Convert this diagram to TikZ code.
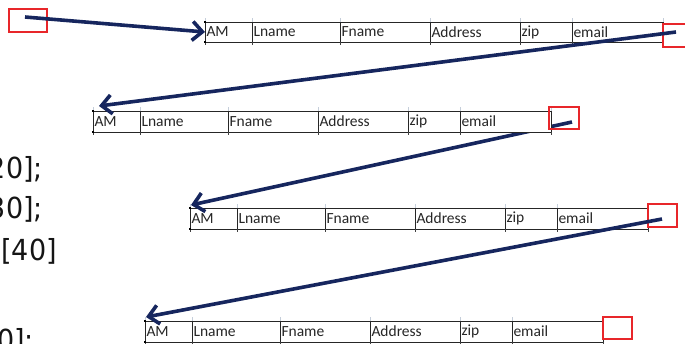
\documentclass[tikz,border=0pt]{standalone}
\usepackage{fontspec}
\setmainfont{Carlito}
\newfontfamily\codefont{DejaVu Sans}[FakeStretch=0.93]
\usetikzlibrary{arrows.meta}

\definecolor{navy}{HTML}{16265E}
\definecolor{markred}{HTML}{E8262A}
\definecolor{gridgray}{HTML}{C5CEDA}
\definecolor{celltext}{HTML}{262626}
\definecolor{codetext}{HTML}{151515}

\tikzset{
  cell/.style={draw=black!85, line width=0.9pt, fill=white, inner xsep=1.5pt,
    inner ysep=0pt, outer sep=0pt, align=left, anchor=north west,
    text=celltext, font=\fontsize{15.5}{15.5}\selectfont},
  redmark/.style={color=markred, draw=markred, line width=1.3pt,
    inner sep=0pt, outer sep=0pt, anchor=north west},
  conn/.style={draw=navy, line width=3.6pt,
    -{Straight Barb[length=10pt,width=19pt]}},
  codeline/.style={anchor=base east, inner sep=0pt, text=codetext,
    font=\codefont\fontsize{29}{29}\selectfont},
}

% one record: AM | Lname | Fname | Address | zip | email
% #1 name prefix, #2 left x, #3 top y, #4 row height
\newcommand\recordrow[4]{%
  \node[cell, minimum height=#4pt, text width=44pt] (#1a) at (#2,#3) {AM};
  \node[cell, minimum height=#4pt, text width=85pt] (#1b) at (#1a.north east) {Lname};
  \node[cell, minimum height=#4pt, text width=87pt] (#1c) at (#1b.north east) {Fname};
  \node[cell, minimum height=#4pt, text width=87pt] (#1d) at (#1c.north east) {Address};
  \node[cell, minimum height=#4pt, text width=49pt] (#1e) at (#1d.north east) {zip};
  \node[cell, minimum height=#4pt, text width=88pt] (#1f) at (#1e.north east) {email};
  \foreach \k in {a,b,c,d,e,f} {
    \draw[gridgray, line width=0.8pt] (#1\k.north west) -- ++(0,-4);
    \draw[black!75, line width=0.9pt] (#1\k.south west) -- ++(0,3);
  }
  \draw[gridgray, line width=0.8pt] (#1f.north east) -- ++(0,-4);
  \draw[black!75, line width=0.9pt] (#1f.south east) -- ++(0,3);
  \fill[black] (#1a.north west) +(-1,-1) rectangle +(1,1);
  \fill[black] (#1a.south west) +(-1,-1) rectangle +(1,1);
}

\begin{document}
\begin{tikzpicture}[x=1pt,y=-1pt]
\useasboundingbox (0,0) rectangle (685,343);
\clip (0,0) rectangle (685,343);

% fragments of declarations on the left
\node[codeline] (c1) at (43,178) {20];};
\node[codeline] (c2) at (43,218) {30];};
\node[codeline] (c3) at (57,260) {[40]};
\node[codeline] (c4) at (34,350) {0];};

% records
\recordrow{ra}{205}{22}{20}
\recordrow{rc}{190}{208}{21}
\recordrow{rd}{145}{321}{21}

% link ends
\coordinate (s1) at (25,17);
\coordinate (s2) at (676,32);
\coordinate (t2) at (99,106);
\coordinate (s3) at (572,122);
\coordinate (t3) at (191,205);
\coordinate (s4) at (662,219);
\coordinate (t4) at (146,317);

% this link runs beneath the second record
\draw[conn] (s3) -- (t3);
\recordrow{rb}{93}{111}{21}

% pointer boxes
\node[redmark, minimum width=38pt, minimum height=23pt] (p0) at (9,9) {};
\node[redmark, minimum width=30pt, minimum height=23pt] (p1) at (663,24) {};
\node[redmark, minimum width=30pt, minimum height=22pt] (p2) at (549,107) {};
\node[redmark, minimum width=29pt, minimum height=23pt] (p3) at (648,204) {};
\node[redmark, minimum width=29pt, minimum height=22pt] (p4) at (603,317) {};

% links
\draw[conn] (s1) -- (raa.west);
\draw[conn] (s2) -- (t2);
\draw[conn] (s4) -- (t4);
\end{tikzpicture}
\end{document}
